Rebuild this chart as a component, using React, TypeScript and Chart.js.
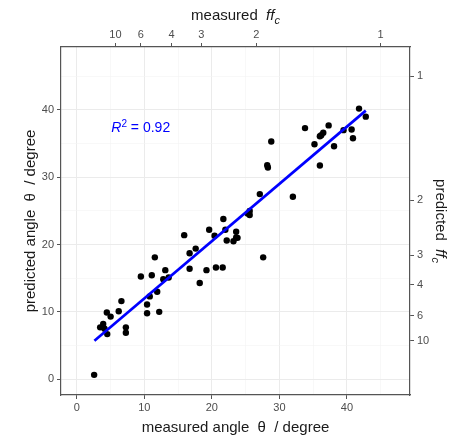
import React, { useEffect, useRef } from 'react';
import { Chart, registerables } from 'chart.js';

Chart.register(...registerables);

// measured angle θ (degree)
const measuredAngle = [
  2.56, 3.45, 3.9, 4.1, 4.44, 4.5, 5.0, 6.2, 6.6, 7.26, 7.26, 9.48, 10.4, 10.4, 10.8, 11.1,
  11.55, 11.9, 12.2, 12.8, 13.1, 13.6, 15.9, 16.7, 16.7, 17.6, 18.2, 19.2, 19.6, 20.4, 20.6,
  21.6, 21.7, 22.0, 22.2, 23.2, 23.6, 23.6, 23.8, 25.3, 25.6, 25.6, 27.1, 27.6, 28.2, 28.3,
  28.8, 32.0, 33.8, 35.2, 36.0, 36.2, 36.5, 37.3, 36.0, 38.1, 39.5, 40.7, 40.9, 41.8, 42.8,
];
// predicted angle θ (degree)
const predictedAngle = [
  0.64, 7.7, 8.2, 7.5, 9.9, 6.7, 9.3, 10.1, 11.6, 7.7, 6.9, 15.26, 11.1, 9.8, 12.3, 15.45,
  18.1, 13.0, 10.0, 14.86, 16.2, 15.1, 21.4, 18.7, 16.4, 19.4, 14.3, 16.2, 22.2, 21.3, 16.6,
  16.6, 23.8, 22.2, 20.6, 20.5, 21.9, 21.05, 21.0, 24.6, 25.0, 24.4, 27.5, 18.1, 31.8, 31.45,
  35.3, 27.1, 37.3, 34.9, 36.1, 36.25, 36.6, 37.7, 31.75, 34.6, 37.0, 37.1, 35.8, 40.2, 39.0,
];
// fitted regression line end points
const fitX = [2.6, 42.8];
const fitY = [5.7, 39.9];
const rSquared = '0.92';

const angleTicks = [0, 10, 20, 30, 40];
const gridTicks = [0, 5, 10, 15, 20, 25, 30, 35, 40, 45];
const ffcTicks = [1, 2, 3, 4, 6, 10];

const AXIS_MIN = -2.35;
const AXIS_MAX = 49.35;

const FONT = '"Liberation Sans", Arial, Helvetica, sans-serif';
const AXIS_LINE = '#555555';
const ffcToAngle = (f: number) => (Math.atan(1 / f) * 180) / Math.PI;

type Seg = { t: string; italic?: boolean; shift?: number; scale?: number };

function drawRich(ctx: CanvasRenderingContext2D, segs: Seg[], x: number, y: number, size: number, color: string, align: 'center' | 'left') {
  const fontFor = (s: Seg) => `${s.italic ? 'italic ' : ''}${Math.round(size * (s.scale || 1))}px ${FONT}`;
  let total = 0;
  for (const s of segs) {
    ctx.font = fontFor(s);
    total += ctx.measureText(s.t).width;
  }
  let cx = align === 'center' ? x - total / 2 : x;
  ctx.fillStyle = color;
  ctx.textAlign = 'left';
  ctx.textBaseline = 'alphabetic';
  for (const s of segs) {
    ctx.font = fontFor(s);
    ctx.fillText(s.t, cx, y + (s.shift || 0) * size);
    cx += ctx.measureText(s.t).width;
  }
}

const annotationPlugin = {
  id: 'annotations',
  afterDraw(chart: any) {
    const ctx: CanvasRenderingContext2D = chart.ctx;
    const area = chart.chartArea;
    const cxMid = (area.left + area.right) / 2;
    const cyMid = (area.top + area.bottom) / 2;
    ctx.save();
    // bottom title
    drawRich(ctx, [{ t: 'measured angle  θ  / degree' }], cxMid, 432, 14.5, '#1a1a1a', 'center');
    // top title
    drawRich(ctx, [{ t: 'measured  ' }, { t: 'ff', italic: true }, { t: 'c', italic: true, shift: 0.3, scale: 0.75 }], cxMid, 20, 14.5, '#1a1a1a', 'center');
    // left title
    ctx.save();
    ctx.translate(35, cyMid);
    ctx.rotate(-Math.PI / 2);
    drawRich(ctx, [{ t: 'predicted angle  θ  / degree' }], 0, 0, 14.5, '#1a1a1a', 'center');
    ctx.restore();
    // right title
    ctx.save();
    ctx.translate(436, cyMid);
    ctx.rotate(Math.PI / 2);
    drawRich(ctx, [{ t: 'predicted  ' }, { t: 'ff', italic: true }, { t: 'c', italic: true, shift: 0.3, scale: 0.75 }], 0, 0, 14.5, '#1a1a1a', 'center');
    ctx.restore();
    // R² label
    const xs = chart.scales.x;
    const ys = chart.scales.y;
    const px = xs.getPixelForValue(5.1);
    const py = ys.getPixelForValue(37.4);
    drawRich(ctx, [{ t: 'R', italic: true }, { t: '2', shift: -0.4, scale: 0.75 }, { t: ' = ' + rSquared }], px, py + 5, 13.5, '#0000FF', 'left');
    ctx.restore();
  },
};

const gridColor = (c: any) => (c.tick && c.tick.value % 10 === 0 ? '#EBEBEB' : '#F3F3F3');
const gridWidth = (c: any) => (c.tick && c.tick.value % 10 === 0 ? 1 : 0.6);
const tickColor = (c: any) => (c.tick && c.tick.value % 10 === 0 ? AXIS_LINE : 'rgba(0,0,0,0)');
const tickFont = { family: FONT, size: 11 };

export default function App() {
  const canvasRef = useRef<HTMLCanvasElement | null>(null);

  useEffect(() => {
    if (!canvasRef.current) return;
    const points = measuredAngle.map((x, i) => ({ x, y: predictedAngle[i] }));
    const fit = fitX.map((x, i) => ({ x, y: fitY[i] }));
    const chart = new Chart(canvasRef.current, {
      type: 'scatter',
      data: {
        datasets: [
          {
            type: 'line',
            data: fit,
            borderColor: '#0000FF',
            borderWidth: 2.7,
            pointRadius: 0,
            showLine: true,
            fill: false,
          } as any,
          {
            data: points,
            backgroundColor: '#000000',
            borderWidth: 0,
            pointRadius: 3.2,
          },
        ],
      },
      plugins: [annotationPlugin],
      options: {
        animation: false,
        responsive: false,
        devicePixelRatio: 1,
        layout: { padding: 0 },
        plugins: { legend: { display: false }, tooltip: { enabled: false } },
        scales: {
          x: {
            type: 'linear',
            position: 'bottom',
            min: AXIS_MIN,
            max: AXIS_MAX,
            afterBuildTicks: (s: any) => {
              s.ticks = gridTicks.map((v) => ({ value: v }));
            },
            afterFit: (s: any) => {
              s.height = 44;
            },
            ticks: {
              color: '#4D4D4D',
              font: tickFont,
              padding: 2,
              maxRotation: 0,
              autoSkip: false,
              callback: (v: any) => (angleTicks.includes(Number(v)) ? String(v) : ''),
            },
            grid: { color: gridColor, lineWidth: gridWidth, tickColor, tickLength: 4, tickWidth: 1 },
            border: { display: true, color: AXIS_LINE, width: 1.2 },
          },
          x2: {
            type: 'linear',
            position: 'top',
            min: AXIS_MIN,
            max: AXIS_MAX,
            afterBuildTicks: (s: any) => {
              s.ticks = ffcTicks.map((f) => ({ value: ffcToAngle(f) }));
            },
            afterFit: (s: any) => {
              s.height = 47;
            },
            ticks: {
              color: '#4D4D4D',
              font: tickFont,
              padding: 1,
              maxRotation: 0,
              autoSkip: false,
              callback: (_v: any, i: number) => String(ffcTicks[i]),
            },
            grid: { drawOnChartArea: false, tickColor: AXIS_LINE, tickLength: 4, tickWidth: 1 },
            border: { display: true, color: AXIS_LINE, width: 1.2 },
          },
          y: {
            type: 'linear',
            position: 'left',
            min: AXIS_MIN,
            max: AXIS_MAX,
            afterBuildTicks: (s: any) => {
              s.ticks = gridTicks.map((v) => ({ value: v }));
            },
            afterFit: (s: any) => {
              s.width = 61;
            },
            ticks: {
              color: '#4D4D4D',
              font: tickFont,
              padding: 3,
              autoSkip: false,
              callback: (v: any) => (angleTicks.includes(Number(v)) ? String(v) : ''),
            },
            grid: { color: gridColor, lineWidth: gridWidth, tickColor, tickLength: 4, tickWidth: 1 },
            border: { display: true, color: AXIS_LINE, width: 1.2 },
          },
          y2: {
            type: 'linear',
            position: 'right',
            min: AXIS_MIN,
            max: AXIS_MAX,
            afterBuildTicks: (s: any) => {
              s.ticks = ffcTicks.map((f) => ({ value: ffcToAngle(f) }));
            },
            afterFit: (s: any) => {
              s.width = 50;
            },
            ticks: {
              color: '#4D4D4D',
              font: tickFont,
              padding: 3,
              autoSkip: false,
              callback: (_v: any, i: number) => String(ffcTicks[i]),
            },
            grid: { drawOnChartArea: false, tickColor: AXIS_LINE, tickLength: 4, tickWidth: 1 },
            border: { display: true, color: AXIS_LINE, width: 1.2 },
          },
        },
      } as any,
    });
    return () => chart.destroy();
  }, []);

  return (
    <div style={{ position: 'absolute', left: 0, top: 0, width: 460, height: 439, background: '#ffffff' }}>
      <canvas ref={canvasRef} width={460} height={439} style={{ display: 'block', width: 460, height: 439 }} />
    </div>
  );
}
